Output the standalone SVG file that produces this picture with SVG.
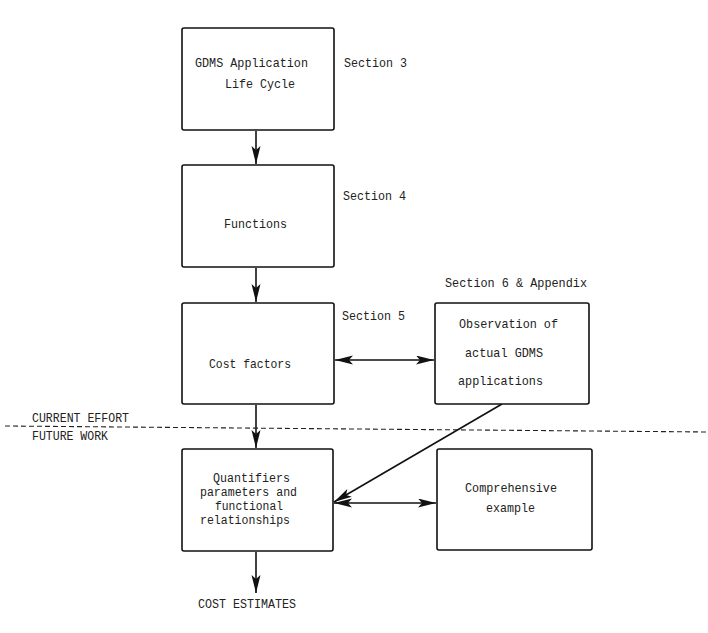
<svg xmlns="http://www.w3.org/2000/svg" width="708" height="633" viewBox="0 0 708 633">
<defs>
<style>
.box{fill:#fff;stroke:#111;stroke-width:1.6}
.t{font-family:"Liberation Mono","DejaVu Sans Mono",monospace;font-size:13px;fill:#222}
.s{font-size:12px}
.ln{stroke:#111;stroke-width:1.6;fill:none}
.dash{stroke:#222;stroke-width:1.1;stroke-dasharray:5 3;fill:none}
</style>
<marker id="ah" markerWidth="20" markerHeight="10" refX="18" refY="4.5" orient="auto-start-reverse" markerUnits="userSpaceOnUse">
<path d="M0,0 L18,4.5 L0,9 L4,4.5 Z" fill="#111"/>
</marker>
</defs>
<rect width="708" height="633" fill="#fff"/>
<g id="connectors">
<line class="ln" x1="256" y1="131" x2="256" y2="164" marker-end="url(#ah)"/>
<line class="ln" x1="256" y1="268" x2="256" y2="302" marker-end="url(#ah)"/>
<line class="ln" x1="335" y1="360" x2="434" y2="360" marker-start="url(#ah)" marker-end="url(#ah)"/>
<line class="ln" x1="256" y1="405" x2="256" y2="448" marker-end="url(#ah)"/>
<line class="ln" x1="502" y1="404" x2="334" y2="502" marker-end="url(#ah)"/>
<line class="ln" x1="334" y1="503" x2="436" y2="503" marker-start="url(#ah)" marker-end="url(#ah)"/>
<line class="ln" x1="256" y1="552" x2="256" y2="593" marker-end="url(#ah)"/>
</g>
<g id="divider">
<line class="dash" x1="5" y1="426" x2="708" y2="432"/>
<text class="t" x="32" y="422" textLength="97" lengthAdjust="spacingAndGlyphs">CURRENT EFFORT</text>
<text class="t" x="32" y="440" textLength="76" lengthAdjust="spacingAndGlyphs">FUTURE WORK</text>
</g>
<g id="lifecycle">
<rect class="box" x="182" y="28" width="152" height="102" rx="2"/>
<text class="t" x="195" y="67" textLength="113" lengthAdjust="spacingAndGlyphs">GDMS Application</text>
<text class="t" x="225" y="88" textLength="70" lengthAdjust="spacingAndGlyphs">Life Cycle</text>
<text class="t" x="344" y="67" textLength="63" lengthAdjust="spacingAndGlyphs">Section 3</text>
</g>
<g id="functions">
<rect class="box" x="182" y="165" width="152" height="102" rx="2"/>
<text class="t" x="224" y="228" textLength="63" lengthAdjust="spacingAndGlyphs">Functions</text>
<text class="t" x="343" y="200" textLength="63" lengthAdjust="spacingAndGlyphs">Section 4</text>
</g>
<g id="costfactors">
<rect class="box" x="182" y="303" width="152" height="101" rx="2"/>
<text class="t" x="209" y="368" textLength="82" lengthAdjust="spacingAndGlyphs">Cost factors</text>
<text class="t" x="342" y="320" textLength="63" lengthAdjust="spacingAndGlyphs">Section 5</text>
</g>
<g id="observation">
<rect class="box" x="435" y="303" width="154" height="101" rx="2"/>
<text class="t" x="459" y="328" textLength="99" lengthAdjust="spacingAndGlyphs">Observation of</text>
<text class="t" x="465" y="357" textLength="78" lengthAdjust="spacingAndGlyphs">actual GDMS</text>
<text class="t" x="458" y="385" textLength="85" lengthAdjust="spacingAndGlyphs">applications</text>
<text class="t" x="445" y="287" textLength="142" lengthAdjust="spacingAndGlyphs">Section 6 &amp; Appendix</text>
</g>
<g id="quantifiers">
<rect class="box" x="182" y="449" width="151" height="102" rx="2"/>
<text class="t s" x="213" y="482" textLength="77" lengthAdjust="spacingAndGlyphs">Quantifiers</text>
<text class="t s" x="200" y="496" textLength="97" lengthAdjust="spacingAndGlyphs">parameters and</text>
<text class="t s" x="215" y="510" textLength="68" lengthAdjust="spacingAndGlyphs">functional</text>
<text class="t s" x="200" y="524" textLength="90" lengthAdjust="spacingAndGlyphs">relationships</text>
</g>
<g id="example">
<rect class="box" x="437" y="449" width="155" height="101" rx="2"/>
<text class="t" x="465" y="492" textLength="92" lengthAdjust="spacingAndGlyphs">Comprehensive</text>
<text class="t" x="486" y="512" textLength="49" lengthAdjust="spacingAndGlyphs">example</text>
</g>
<g id="estimates">
<text class="t" x="198" y="608" textLength="98" lengthAdjust="spacingAndGlyphs">COST ESTIMATES</text>
</g>
</svg>
